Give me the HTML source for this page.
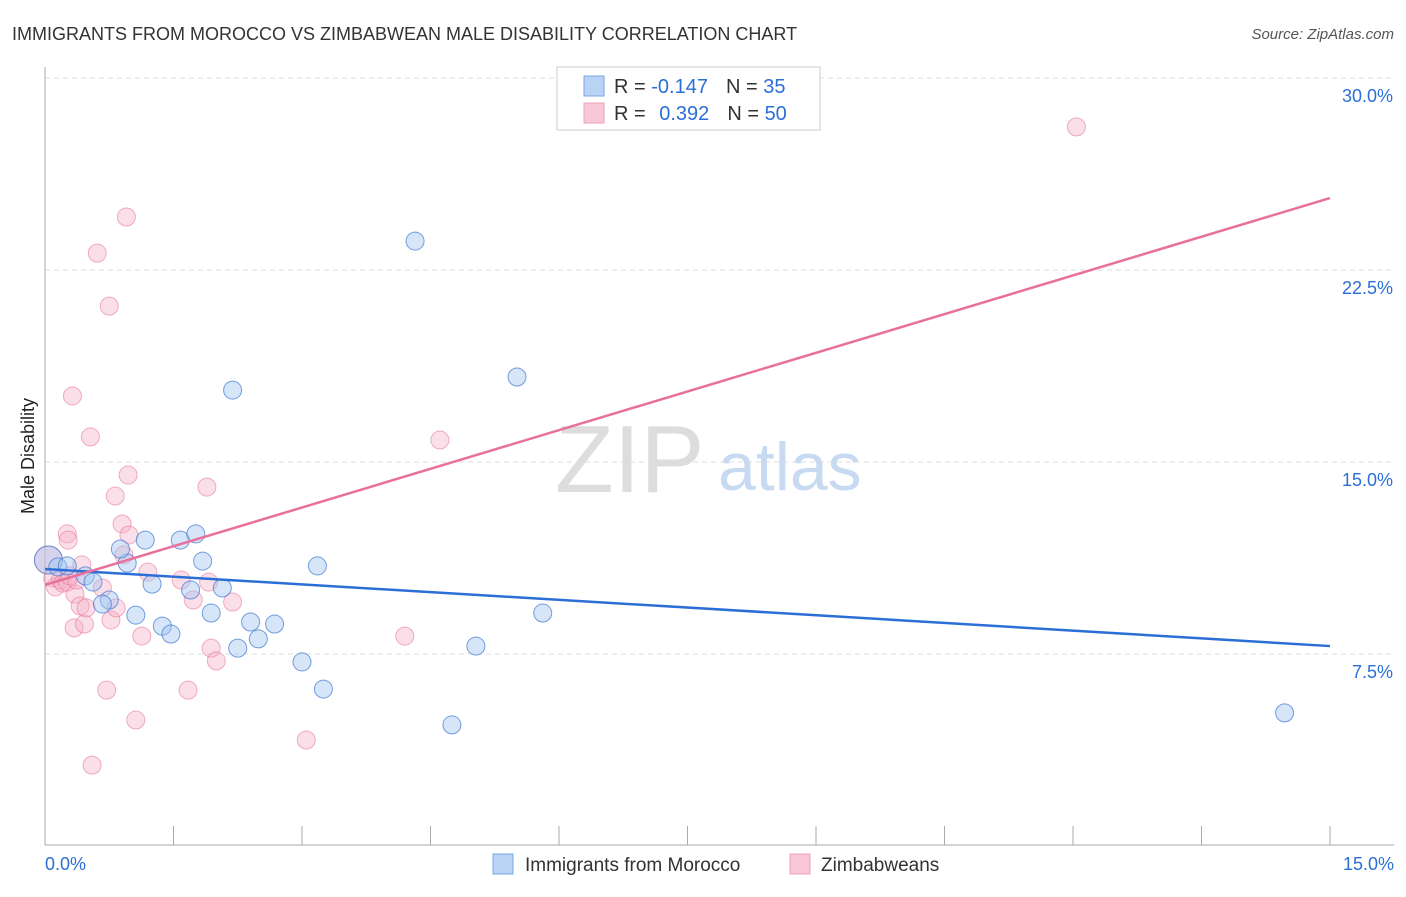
<!DOCTYPE html>
<html><head><meta charset="utf-8"><style>
body{margin:0;background:#fff;font-family:"Liberation Sans",sans-serif;}
svg text{font-family:"Liberation Sans",sans-serif;}
</style></head><body>
<svg id="c" width="1406" height="892">
<text x="12" y="40" font-size="18" fill="#333">IMMIGRANTS FROM MOROCCO VS ZIMBABWEAN MALE DISABILITY CORRELATION CHART</text>
<text x="1394" y="39" font-size="15" fill="#555" font-style="italic" text-anchor="end">Source: ZipAtlas.com</text>
<text x="555" y="492" font-size="96" fill="#ddd" font-family="Liberation Serif">ZIP</text>
<text x="718" y="490" font-size="68" fill="#c8daf2">atlas</text>
<text transform="translate(34,456) rotate(-90)" font-size="18" fill="#222" text-anchor="middle">Male Disability</text>
<g id="grid"></g><g id="pts"></g><g id="lines"></g>
<g>
<rect x="557" y="67" width="263" height="63" fill="#fff" stroke="#ccc"/>
<rect x="584" y="76" width="20" height="20" fill="#b9d3f5" stroke="#7aa6e0"/>
<rect x="584" y="103" width="20" height="20" fill="#f9c8d6" stroke="#eea0b8"/>
<text x="614" y="93" font-size="20" fill="#333">R = <tspan fill="#2b6fd6">-0.147</tspan><tspan dx="18">N = </tspan><tspan fill="#2b6fd6">35</tspan></text>
<text x="614" y="120" font-size="20" fill="#333">R = <tspan dx="8" fill="#2b6fd6">0.392</tspan><tspan dx="18">N = </tspan><tspan fill="#2b6fd6">50</tspan></text>
</g>
<g>
<rect x="493" y="854" width="20" height="20" fill="#b9d3f5" stroke="#7aa6e0"/>
<text x="525" y="871" font-size="19" fill="#333">Immigrants from Morocco</text>
<rect x="790" y="854" width="20" height="20" fill="#f9c8d6" stroke="#eea0b8"/>
<text x="821" y="871" font-size="19" fill="#333">Zimbabweans</text>
</g>
</svg>
<script>
const xTicks=[0,1.5,3,4.5,6,7.5,9,10.5,12,13.5,15];
const yTicks=[7.5,15,22.5,30];
const yTickLabels=["7.5%","15.0%","22.5%","30.0%"];
const moroccoX=[0.04,0.15,0.26,0.47,0.56,0.75,0.67,0.96,0.88,1.17,1.25,1.06,1.37,1.47,1.58,1.76,1.84,1.70,2.07,1.94,2.19,2.25,2.40,2.49,2.68,3.00,3.18,3.25,4.32,4.75,5.03,5.51,5.81,14.47];
const moroccoY=[11.17,10.90,10.94,10.55,10.31,9.61,9.45,11.05,11.60,11.95,10.23,9.02,8.59,8.28,11.95,12.19,11.13,10.00,10.08,9.10,17.81,7.73,8.75,8.09,8.67,7.19,10.94,6.13,23.63,4.73,7.81,18.32,9.10,5.20];
const zimX=[0.04,0.09,0.12,0.18,0.21,0.26,0.29,0.32,0.34,0.35,0.37,0.41,0.43,0.46,0.48,0.53,0.55,0.61,0.67,0.72,0.75,0.77,0.82,0.83,0.90,0.92,0.95,0.97,0.98,1.06,1.13,1.20,1.59,1.67,1.73,1.89,1.91,1.94,2.00,2.19,3.05,4.20,4.61,12.04,0.26,0.27];
const zimY=[11.17,10.47,10.12,10.39,10.27,10.31,10.55,17.58,8.52,9.84,10.39,9.38,10.98,8.67,9.30,15.98,3.16,23.16,10.08,6.09,21.09,8.83,13.67,9.30,12.58,11.37,24.57,14.49,12.15,4.92,8.20,10.70,10.39,6.09,9.61,14.02,10.31,7.73,7.23,9.53,4.14,8.20,15.86,28.09,12.19,11.95];
const moroccoTrend=[10.82,7.81];
const zimTrend=[10.20,25.31];
const X=v=>45+v/15*1285, Y=v=>846-v/7.5*192;
const NS="http://www.w3.org/2000/svg";
function mk(t,a,p){const e=document.createElementNS(NS,t);for(const k in a)e.setAttribute(k,a[k]);p.appendChild(e);return e;}
const g=document.getElementById('grid');
yTicks.forEach((v,i)=>{
 const l=mk('line',{x1:45,x2:1394,y1:Y(v),y2:Y(v),stroke:'#ddd','stroke-dasharray':'5,4'},g);
 
 
 const t=mk('text',{x:1393,y:Y(v)+24,'font-size':18,fill:'#2b6fd6','text-anchor':'end'},g);
 t.textContent=yTickLabels[i];
 
 
});
mk('line',{x1:45,x2:45,y1:67,y2:845,stroke:'#aaa'},g);
mk('line',{x1:45,x2:1394,y1:845,y2:845,stroke:'#aaa'},g);
xTicks.forEach(v=>{
 const l=mk('line',{x1:X(v),x2:X(v),y1:826,y2:845,stroke:'#aaa'},g);
 
 
});
let t0=mk('text',{x:45,y:870,'font-size':18,fill:'#2b6fd6'},g);t0.textContent='0.0%';


let t1=mk('text',{x:1394,y:870,'font-size':18,fill:'#2b6fd6','text-anchor':'end'},g);t1.textContent='15.0%';


const p=document.getElementById('pts');
zimX.forEach((v,i)=>{
 const c=mk('circle',{cx:X(v),cy:Y(zimY[i]),r:i==0?14:9,fill:'rgba(246,176,198,0.4)',stroke:'rgba(232,120,160,0.6)','stroke-width':1},p);
 
 
});
moroccoX.forEach((v,i)=>{
 const c=mk('circle',{cx:X(v),cy:Y(moroccoY[i]),r:i==0?14:9,fill:'rgba(165,198,240,0.45)',stroke:'rgba(60,120,210,0.7)','stroke-width':1},p);
 
 
});
const L=document.getElementById('lines');
let a=mk('line',{x1:X(0),y1:Y(moroccoTrend[0]),x2:X(15),y2:Y(moroccoTrend[1]),stroke:'#2b6fd6','stroke-width':2.5},L);


let b=mk('line',{x1:X(0),y1:Y(zimTrend[0]),x2:X(15),y2:Y(zimTrend[1]),stroke:'#e8709a','stroke-width':2.5},L);


</script>
</body></html>
